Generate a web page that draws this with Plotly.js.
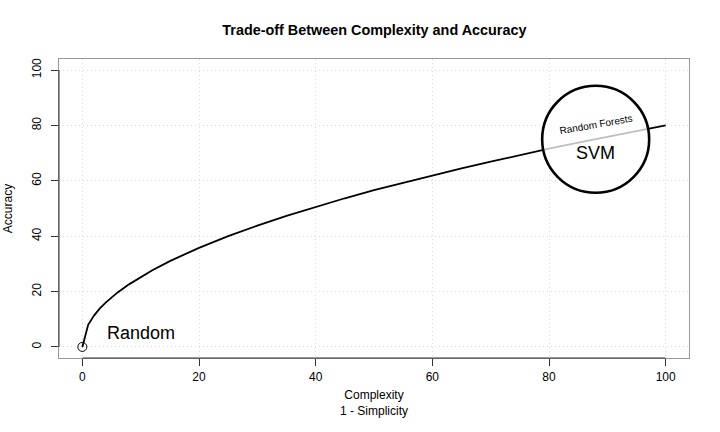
<!DOCTYPE html>
<html>
<head>
<meta charset="utf-8">
<script src="https://cdn.plot.ly/plotly-3.0.1.min.js"></script>
<style>
  body { margin: 0; background: #fff; }
  #chart { width: 720px; height: 432px; }
</style>
</head>
<body>
<div id="chart"></div>
<script>
// curve
var complexity = [0, 1, 2, 3, 4, 5, 6, 8, 10, 12, 15, 20, 25, 30, 35, 40, 45, 50, 55, 60, 65, 70, 75, 80, 85, 90, 95, 100];
var accuracy = [0, 8, 11.3, 13.9, 16, 17.9, 19.6, 22.6, 25.3, 27.7, 31, 35.8, 40, 43.8, 47.3, 50.6, 53.7, 56.6, 59.3, 62, 64.5, 66.9, 69.3, 71.6, 73.8, 75.9, 78, 80];

// labelled spots
var randomPoint = {x: 0, y: 0};
var svmCenter = {x: 88, y: 75};
var tickVals = [0, 20, 40, 60, 80, 100];

var font = "Liberation Sans, Arial, sans-serif";
var axisCol = "#333";
var boxCol = "#999";
var gridCol = "#dcdcdc";

var curve = {
    x: complexity,
    y: accuracy,
    type: "scatter",
    mode: "lines",
    line: {color: "#000", width: 1.8},
    hoverinfo: "skip"
};

var startPt = {
    x: [randomPoint.x],
    y: [randomPoint.y],
    type: "scatter",
    mode: "markers",
    marker: {symbol: "circle-open", size: 9, color: "#000", line: {width: 1}},
    hoverinfo: "skip"
};

// big circle; translucent white fill so the line shows gray inside
var svmCircle = {
    x: [svmCenter.x],
    y: [svmCenter.y],
    type: "scatter",
    mode: "markers",
    marker: {symbol: "circle", size: 107, color: "rgba(255,255,255,0.75)",
             line: {color: "#000", width: 2.6}},
    hoverinfo: "skip"
};

var layout = {
    width: 720,
    height: 432,
    showlegend: false,
    paper_bgcolor: "#fff",
    plot_bgcolor: "#fff",
    margin: {l: 59, r: 31, t: 59, b: 74},
    font: {family: font, size: 12, color: "#000"},
    title: {
        text: "<b>Trade-off Between Complexity and Accuracy</b>",
        font: {family: font, size: 14.4, color: "#000"},
        x: 0.52, xanchor: "center", y: 0.93, yanchor: "middle"
    },
    xaxis: {
        range: [-4, 104],
        tickvals: tickVals,
        ticks: "outside", ticklen: 7, tickcolor: axisCol,
        showline: true, linecolor: boxCol, linewidth: 1.3, mirror: true,
        showgrid: true, gridcolor: gridCol, griddash: "1px,3px", gridwidth: 1,
        zeroline: false,
        tickfont: {size: 12},
        title: {text: "Complexity<br>1 - Simplicity", standoff: 8, font: {size: 12}}
    },
    yaxis: {
        range: [-4, 104],
        tickvals: tickVals,
        tickangle: -90,
        ticks: "outside", ticklen: 7, tickcolor: axisCol,
        ticklabelstandoff: 5,
        showline: true, linecolor: boxCol, linewidth: 1.3, mirror: true,
        showgrid: true, gridcolor: gridCol, griddash: "1px,3px", gridwidth: 1,
        zeroline: false,
        tickfont: {size: 12},
        title: {text: "Accuracy", standoff: 14, font: {size: 12}}
    },
    shapes: [
        {type: "line", xref: "x", yref: "paper", x0: 0, x1: 100, y0: 0, y1: 0,
         line: {color: axisCol, width: 1}},
        {type: "line", xref: "paper", yref: "y", x0: 0, x1: 0, y0: 0, y1: 100,
         line: {color: axisCol, width: 1}}
    ],
    annotations: [
        {x: 10, y: 5, text: "Random", showarrow: false,
         font: {size: 18, family: font}},
        {x: svmCenter.x, y: svmCenter.y - 5, text: "SVM", showarrow: false,
         font: {size: 18, family: font}},
        {x: svmCenter.x, y: svmCenter.y + 5.3, text: "Random Forests", showarrow: false,
         textangle: -10, font: {size: 10, family: font}}
    ]
};

Plotly.newPlot("chart", [curve, svmCircle, startPt], layout, {staticPlot: true, displayModeBar: false});
</script>
</body>
</html>
